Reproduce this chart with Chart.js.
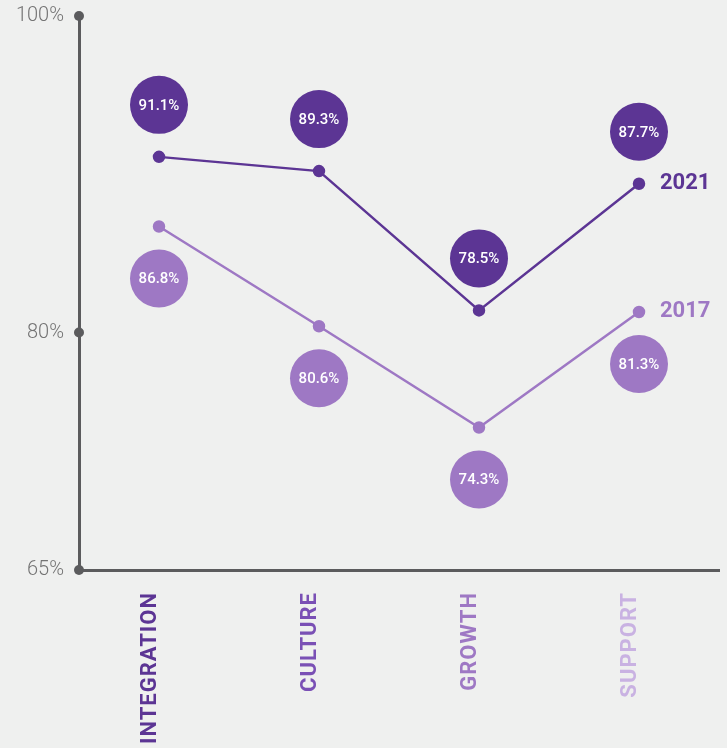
<!DOCTYPE html>
<html>
<head>
<meta charset="utf-8">
<script src="https://cdn.jsdelivr.net/npm/chart.js@4.4.1/dist/chart.umd.min.js"></script>
<style>
  html, body { margin: 0; padding: 0; background: #eff0ef; }
  #wrap { width: 727px; height: 748px; }
</style>
</head>
<body>
<div id="wrap"><canvas id="scoreChart"></canvas></div>
<script>
// categories and tick values
const categories = ["INTEGRATION", "CULTURE", "GROWTH", "SUPPORT"];
const yTickValues = [65, 80, 100];

// point positions
const values2021 = [91.1, 90.2, 81.4, 89.4];
const values2017 = [86.7, 80.4, 74.0, 81.3];

// bubble texts as printed on the picture
const labels2021 = ["91.1%", "89.3%", "78.5%", "87.7%"];
const labels2017 = ["86.8%", "80.6%", "74.3%", "81.3%"];

const seriesNames = ["2021", "2017"];
const categoryColors = ["#5c3594", "#7a50b5", "#9e78c4", "#c9b2e2"];
const dark = "#5c3594";
const light = "#9e78c4";
const axisGray = "#5b5b5d";

// dots on the y axis, rotated category names, bubbles and series names
const decorations = {
    id: "decorations",
    afterDatasetsDraw(chart) {
        const ctx = chart.ctx;
        const xScale = chart.scales.x;
        const yScale = chart.scales.y;
        const xLeft = chart.chartArea.left;

        ctx.save();
        ctx.fillStyle = axisGray;
        yTickValues.forEach(v => {
            ctx.beginPath();
            ctx.arc(xLeft, yScale.getPixelForValue(v), 5, 0, Math.PI * 2);
            ctx.fill();
        });

        // category names, reading bottom to top, ending just under the axis
        ctx.font = "bold 22px Roboto";
        ctx.letterSpacing = "1px";
        ctx.textAlign = "right";
        ctx.textBaseline = "middle";
        categories.forEach((name, i) => {
            const x = xScale.getPixelForTick(i) - 9;
            ctx.save();
            ctx.translate(x, chart.chartArea.bottom + 22);
            ctx.rotate(-Math.PI / 2);
            ctx.fillStyle = categoryColors[i];
            ctx.fillText(name, 0, 0);
            ctx.restore();
        });
        ctx.letterSpacing = "0px";

        const bubbleSets = [
            { index: 0, texts: labels2021, color: dark, dir: -1 },
            { index: 1, texts: labels2017, color: light, dir: 1 }
        ];
        bubbleSets.forEach(set => {
            const meta = chart.getDatasetMeta(set.index);
            meta.data.forEach((pt, i) => {
                const cy = pt.y + set.dir * 52;
                ctx.fillStyle = set.color;
                ctx.beginPath();
                ctx.arc(pt.x, cy, 29, 0, Math.PI * 2);
                ctx.fill();
                ctx.fillStyle = "#ffffff";
                ctx.font = "500 15px Roboto";
                ctx.textAlign = "center";
                ctx.textBaseline = "middle";
                ctx.fillText(set.texts[i], pt.x, cy + 1);
            });
            const last = meta.data[meta.data.length - 1];
            ctx.fillStyle = set.color;
            ctx.font = "bold 22px Roboto";
            ctx.textAlign = "left";
            ctx.textBaseline = "middle";
            ctx.fillText(seriesNames[set.index], last.x + 21, last.y);
        });
        ctx.restore();
    }
};

const chart = new Chart(document.getElementById("scoreChart").getContext("2d"), {
    type: "line",
    data: {
        labels: categories,
        datasets: [
            {
                label: seriesNames[0],
                data: values2021,
                borderColor: dark,
                backgroundColor: dark,
                borderWidth: 2.5,
                pointRadius: 5,
                pointHoverRadius: 5,
                tension: 0
            },
            {
                label: seriesNames[1],
                data: values2017,
                borderColor: light,
                backgroundColor: light,
                borderWidth: 2.5,
                pointRadius: 5,
                pointHoverRadius: 5,
                tension: 0
            }
        ]
    },
    options: {
        responsive: true,
        maintainAspectRatio: false,
        animation: false,
        layout: { padding: { top: 16, right: 8, left: 0, bottom: 0 } },
        plugins: {
            legend: { display: false },
            tooltip: { enabled: false }
        },
        scales: {
            x: {
                type: "category",
                offset: true,
                grid: { display: false, drawTicks: false },
                border: { display: true, color: axisGray, width: 3 },
                ticks: { display: false },
                afterFit: scale => {
                    scale.height = 178;
                    scale.paddingLeft = 0;
                    scale.paddingRight = 0;
                }
            },
            y: {
                min: 65,
                max: 100,
                grid: { display: false, drawTicks: false },
                border: { display: true, color: axisGray, width: 3 },
                afterBuildTicks: scale => {
                    scale.ticks = yTickValues.map(v => ({ value: v }));
                },
                ticks: {
                    padding: 15,
                    color: "#737373",
                    font: { family: "Roboto", size: 20, weight: "300" },
                    callback: v => v + "%"
                },
                afterFit: scale => {
                    scale.width = 79;
                    scale.paddingTop = 0;
                    scale.paddingBottom = 0;
                }
            }
        }
    },
    plugins: [decorations]
});
</script>
</body>
</html>
